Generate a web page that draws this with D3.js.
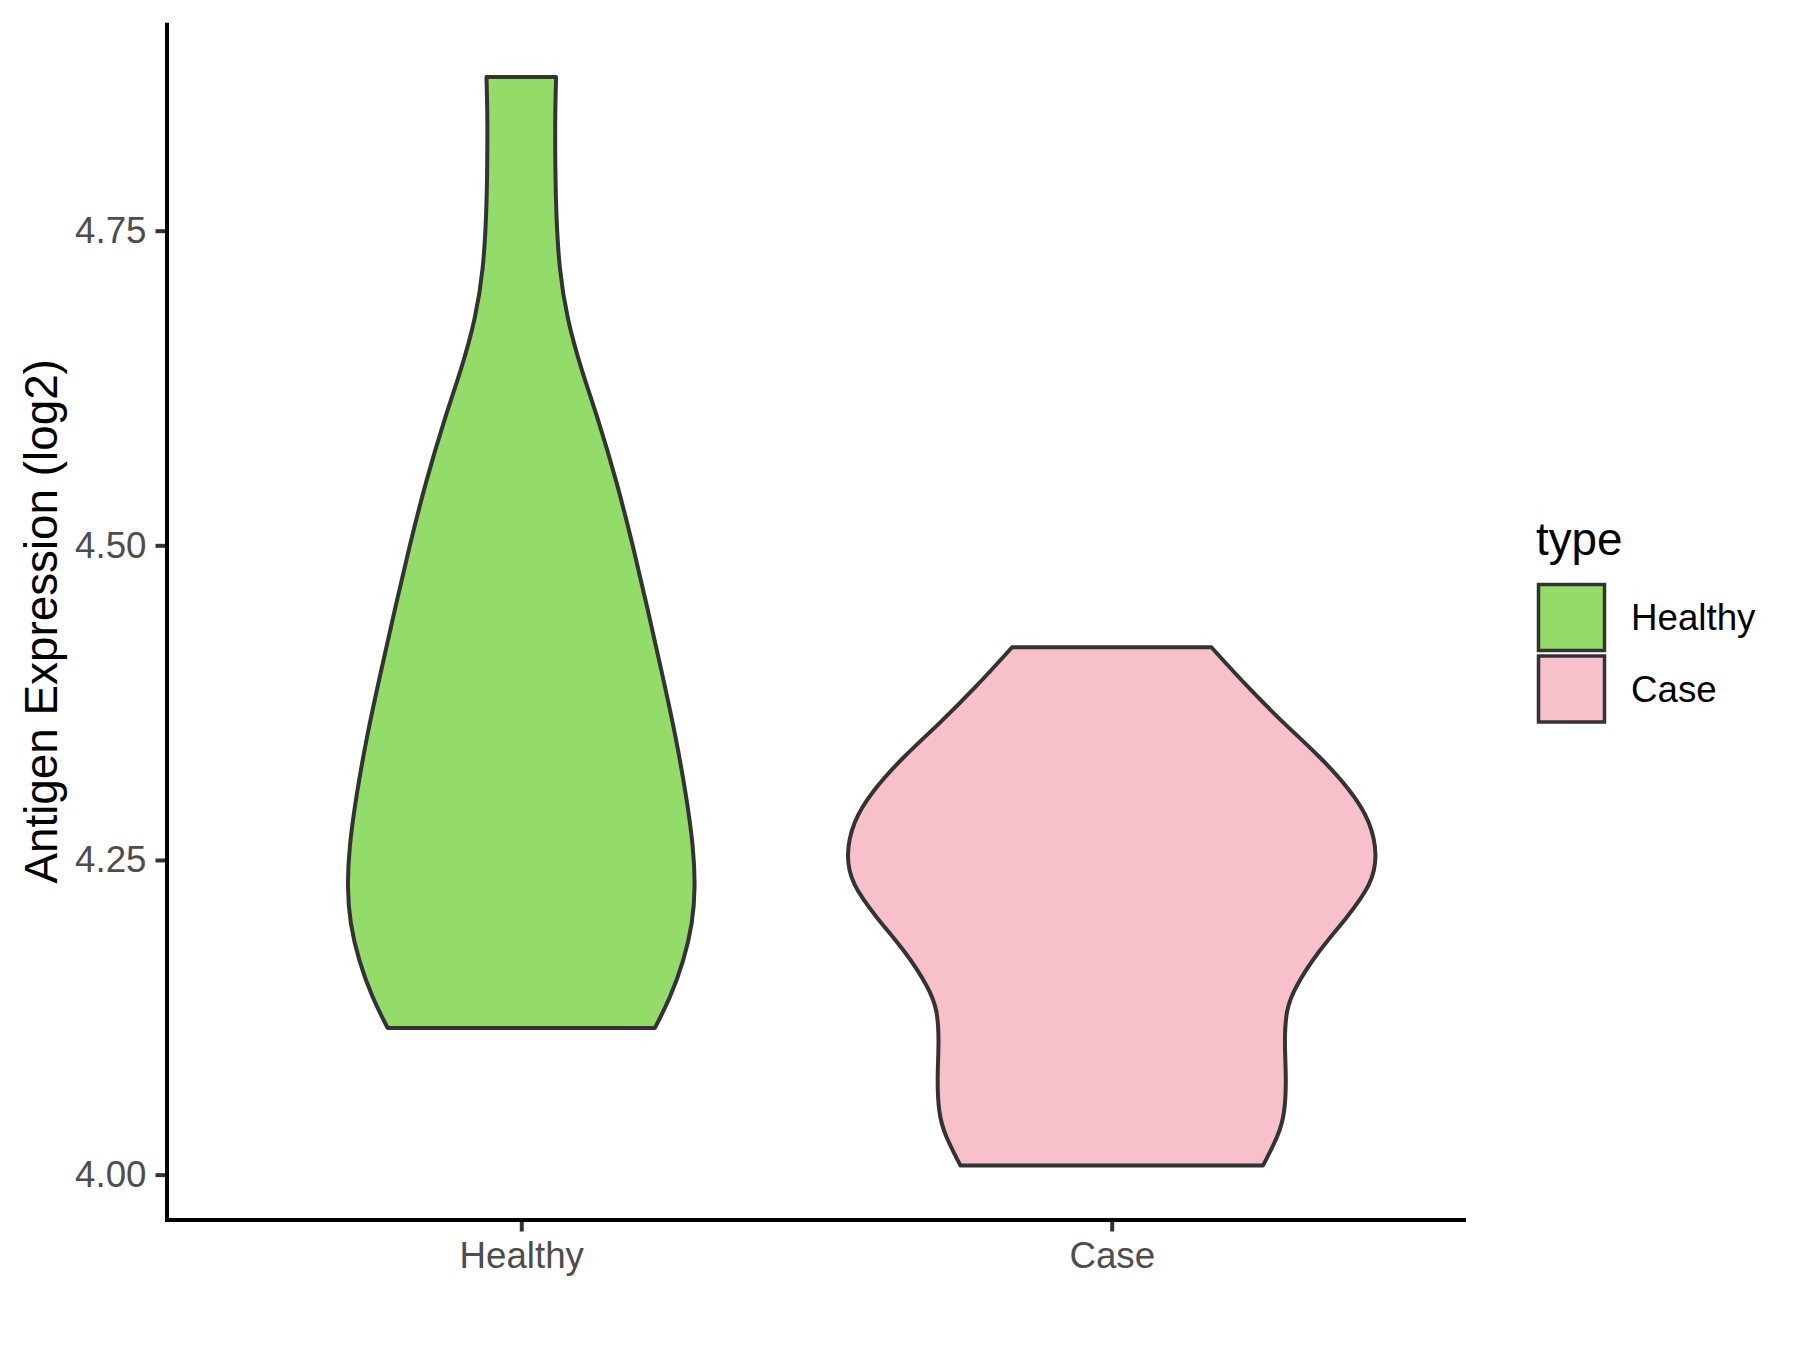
<!DOCTYPE html>
<html>
<head>
<meta charset="utf-8">
<script src="https://cdn.jsdelivr.net/npm/d3@7"></script>
<style>
  html, body { margin: 0; padding: 0; background: #ffffff; }
  svg { display: block; font-family: "Liberation Sans", Arial, Helvetica, sans-serif; }
</style>
</head>
<body>
<svg id="chart" width="1800" height="1350"></svg>
<script>
// ---- data ----
const categories = ["Healthy", "Case"];
const colors = ["#93DC6A", "#F7C0CB"];
const yTicks = [4.00, 4.25, 4.50, 4.75];
const yLabel = "Antigen Expression (log2)";
const legendTitle = "type";

// violin density profiles: [value, relative density]
const healthyProfile = [
  [4.1166, 0.503], [4.14, 0.56], [4.17, 0.612], [4.20, 0.645], [4.228, 0.655],
  [4.26, 0.648], [4.30, 0.622], [4.35, 0.58], [4.40, 0.528], [4.45, 0.475],
  [4.50, 0.42], [4.55, 0.36], [4.60, 0.29], [4.64, 0.225], [4.68, 0.172],
  [4.72, 0.142], [4.765, 0.131], [4.80, 0.128], [4.84, 0.127], [4.872, 0.131]
];
const caseProfile = [
  [4.0072, 0.569], [4.031, 0.628], [4.049, 0.652], [4.077, 0.657], [4.104, 0.65],
  [4.131, 0.655], [4.149, 0.69], [4.177, 0.775], [4.204, 0.885], [4.231, 0.98],
  [4.254, 1.0], [4.28, 0.975], [4.304, 0.905], [4.332, 0.785], [4.359, 0.645],
  [4.387, 0.513], [4.419, 0.375]
];
const profiles = [healthyProfile, caseProfile];

// ---- layout ----
const svg = d3.select("#chart");
const pLeft = 167, pRight = 1466, pTop = 22.7, pBottom = 1220;

const allVals = profiles.flat().map(d => d[0]);
const vmin = d3.min(allVals), vmax = d3.max(allVals);
const pad = (vmax - vmin) * 0.05;
const y = d3.scaleLinear().domain([vmin - pad, vmax + pad]).range([pBottom, pTop]);
const x = d3.scalePoint().domain(categories).range([pLeft, pRight]).padding(0.6);
const step = x.step();
const maxDens = d3.max(profiles.flat().map(d => d[1]));
const w = d => d / maxDens * 0.45 * step;

// ---- violins ----
const line = d3.line().x(d => d[0]).y(d => d[1]).curve(d3.curveBasis);
profiles.forEach((prof, i) => {
  const cx = x(categories[i]);
  const rightSide = prof.map(d => [cx + w(d[1]), y(d[0])]);
  const leftSide = prof.slice().reverse().map(d => [cx - w(d[1]), y(d[0])]);
  const pathStr = line(rightSide) + "L" + line(leftSide).slice(1) + "Z";
  svg.append("path")
    .attr("d", pathStr)
    .attr("fill", colors[i])
    .attr("stroke", "#333333")
    .attr("stroke-width", 4)
    .attr("stroke-linejoin", "round");
});

// ---- axes ----
const yAxis = d3.axisLeft(y).tickValues(yTicks).tickFormat(d3.format(".2f")).tickSize(11.5).tickPadding(9);
const gy = svg.append("g").attr("transform", `translate(${pLeft},0)`).call(yAxis);
gy.select(".domain").remove();
gy.selectAll(".tick line").attr("stroke", "#333333").attr("stroke-width", 4);
gy.selectAll(".tick text").attr("fill", "#4D4D4D").attr("font-size", 36.7)
  .attr("font-family", "Liberation Sans, Arial, sans-serif");

const xAxis = d3.axisBottom(x).tickSize(11.5).tickPadding(9);
const gx = svg.append("g").attr("transform", `translate(0,${pBottom})`).call(xAxis);
gx.select(".domain").remove();
gx.selectAll(".tick line").attr("stroke", "#333333").attr("stroke-width", 4);
gx.selectAll(".tick text").attr("fill", "#4D4D4D").attr("font-size", 36.7)
  .attr("font-family", "Liberation Sans, Arial, sans-serif").attr("dy", "0.76em");

// axis lines
svg.append("line").attr("x1", pLeft).attr("x2", pLeft).attr("y1", pTop).attr("y2", pBottom + 2)
  .attr("stroke", "#000").attr("stroke-width", 4);
svg.append("line").attr("x1", pLeft - 2).attr("x2", pRight).attr("y1", pBottom).attr("y2", pBottom)
  .attr("stroke", "#000").attr("stroke-width", 4);

// axis title
svg.append("text")
  .attr("transform", `translate(57,${(pTop + pBottom) / 2}) rotate(-90)`)
  .attr("text-anchor", "middle")
  .attr("font-size", 45.8)
  .attr("fill", "#000")
  .text(yLabel);

// ---- legend ----
const lg = svg.append("g");
lg.append("text").attr("x", 1536).attr("y", 555).attr("font-size", 45.8).attr("fill", "#000").text(legendTitle);
categories.forEach((c, i) => {
  const ky = 584.5 + i * 71.5;
  lg.append("rect").attr("x", 1538.5).attr("y", ky).attr("width", 66).attr("height", 66)
    .attr("fill", colors[i]).attr("stroke", "#333333").attr("stroke-width", 3.5);
  lg.append("text").attr("x", 1631).attr("y", ky + 33).attr("dy", "0.35em")
    .attr("font-size", 36.7).attr("fill", "#000").text(c);
});
</script>
</body>
</html>
